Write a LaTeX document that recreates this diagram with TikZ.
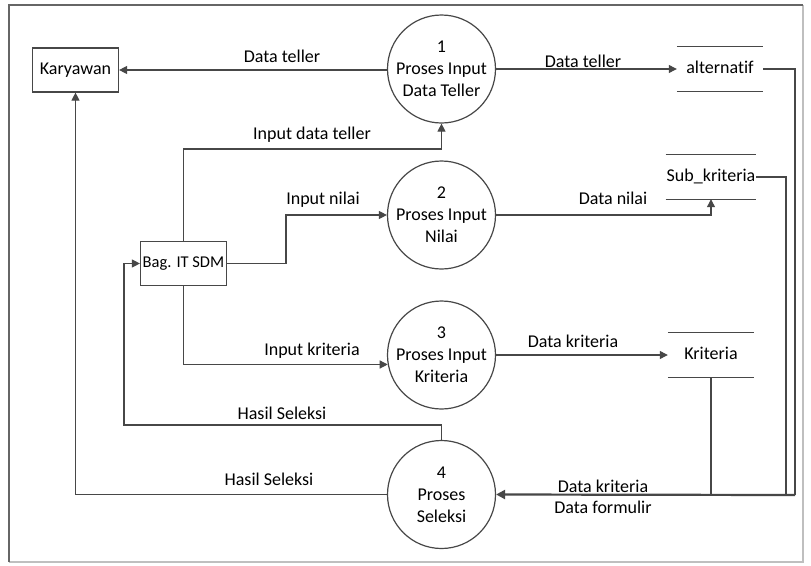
\documentclass[tikz,border=0pt]{standalone}
\usepackage{fontspec}
\setmainfont{Carlito}[Ligatures=NoCommon]
\usetikzlibrary{arrows.meta}
\tikzset{
  ln/.style={draw=black!72, line width=1.2pt},
  arr/.style={ln, -{Triangle[length=8pt,width=8pt]}},
  txt/.style={font=\fontsize{18}{22}\selectfont, text height=12pt, text depth=4pt},
  entity/.style={ln, txt, rectangle, minimum width=86pt, minimum height=44pt, inner sep=1pt},
  process/.style={ln, circle, minimum size=108pt, inner sep=0pt, align=center, font=\fontsize{18}{22}\selectfont},
  store/.style={txt, rectangle, minimum width=86pt, minimum height=44pt, inner sep=1pt},
  lbl/.style={font=\fontsize{18}{22}\selectfont, inner sep=0pt, anchor=base}
}
\begin{document}
\begin{tikzpicture}[x=1pt,y=-1pt]
  \useasboundingbox (0,0) rectangle (811,565);
  \fill[white] (0,0) rectangle (811,565);
  % page frame: darker on the top and left, lighter on the right and bottom
  \draw[black!25, line width=1.5pt] (803,5) -- (803,562) -- (9,562);
  \draw[black!60, line width=2pt] (9,562) -- (9,5) -- (803,5);

  % external entities
  \node[entity] (kar) at (75.5,70) {Karyawan};
  \node[entity, inner sep=0pt, font=\fontsize{16.5}{20}\selectfont] (bag) at (183.5,263.5) {Bag. IT SDM};

  % processes
  \node[process] (p1) at (441.5,69) {1\\Proses Input\\Data Teller};
  \node[process] (p2) at (441.5,215) {2\\Proses Input\\Nilai};
  \node[process] (p3) at (441.5,355) {3\\Proses Input\\Kriteria};
  \node[process] (p4) at (441.5,494.5) {4\\Proses\\Seleksi};

  % data stores: open-ended boxes with a top and a bottom line
  \node[store] (alt) at (720,69) {alternatif};
  \node[store] (sub) at (711,177) {Sub\_kriteria};
  \node[store] (kri) at (711,355) {Kriteria};
  \foreach \s in {alt,sub,kri}{
    \draw[ln] (\s.north west) -- (\s.north east);
    \draw[ln] (\s.south west) -- (\s.south east);
  }

  % collector points on the right
  \coordinate (ra) at (795,495);
  \coordinate (rs) at (786,495);
  \coordinate (rk) at (711,495);

  % flows
  \draw[arr] (p1.west |- kar.east) -- (kar.east);
  \draw[arr] (p1.east) -- (alt.west);
  \draw[arr] (bag.north) |- (441.5,149) -- (p1.south);
  \draw[arr] (bag.east) -- (286,263.5) |- (p2.west);
  \draw[arr] (p2.east) -| (sub.south);
  \draw[arr] (bag.south) |- (p3.190);
  \draw[arr] (p3.east) -- (kri.west);
  \draw[ln] (alt.east) -| (ra);
  \draw[ln] (sub.east) -| (rs);
  \draw[ln] (kri.south) -- (rk);
  \draw[ln, line width=2.2pt, -{Triangle[length=9pt,width=9pt]}] (ra) -- (p4.east);
  \draw[arr] (p4.west) -| (kar.south);
  \draw[arr] (p4.north) |- (124,425) |- (bag.west);

  % flow labels
  \node[lbl] (l1) at (282,62) {Data teller};
  \node[lbl] (l2) at (583,67) {Data teller};
  \node[lbl] (l3) at (312,139) {Input data teller};
  \node[lbl] (l4) at (323,204) {Input nilai};
  \node[lbl] (l5) at (613,204) {Data nilai};
  \node[lbl] (l6) at (312,355) {Input kriteria};
  \node[lbl] (l7) at (573,347) {Data kriteria};
  \node[lbl] (l8) at (282,419) {Hasil Seleksi};
  \node[lbl] (l9) at (269,485) {Hasil Seleksi};
  \node[lbl] (l10) at (603,492) {Data kriteria};
  \node[lbl] (l11) at (603,513) {Data formulir};
\end{tikzpicture}
\end{document}
